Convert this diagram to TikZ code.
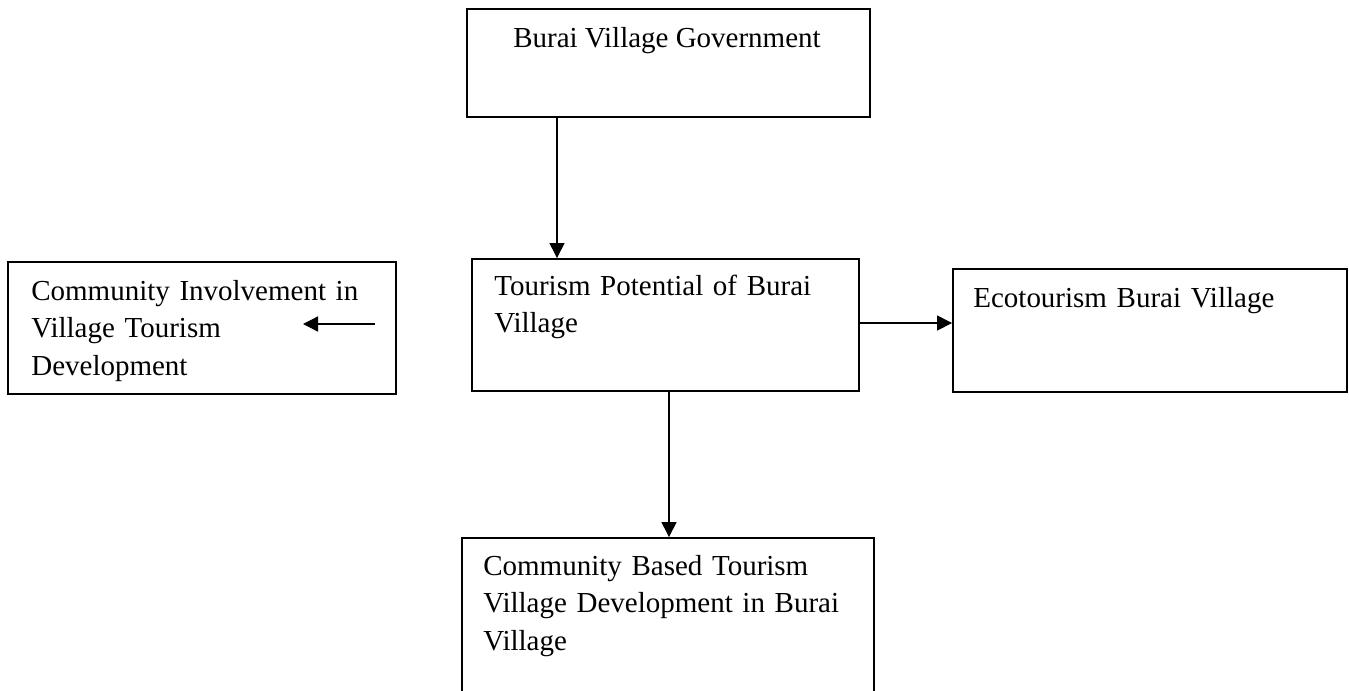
\documentclass[tikz,border=0pt]{standalone}
\usepackage{fontspec}
\setmainfont{Liberation Serif}
\usetikzlibrary{arrows.meta}
\usepackage{xcolor}
\definecolor{boxink}{HTML}{000000}

\begin{document}
\begin{tikzpicture}[x=0.02cm,y=-0.02cm,
  point/.style={coordinate},
  block/.style={draw=boxink, line width=1.1pt, rectangle, inner sep=0pt},
  label/.style={anchor=base west, inner sep=0pt, align=left, text=boxink, font=\fontsize{16.5}{21.5}\selectfont},
  arr/.style={draw=boxink, line width=0.75pt, -{Triangle[length=0.3cm,width=0.3cm]}}]
\clip (0,0) rectangle (1349,690);
\useasboundingbox (0,0) rectangle (1349,690);
% boxes
\node[block, minimum width=8.06cm, minimum height=2.16cm] (gov) at (668.5,63) {};
\node[block, minimum width=7.74cm, minimum height=2.64cm] (pot) at (665.5,325) {};
\node[block, minimum width=7.88cm, minimum height=2.46cm] (eco) at (1150,330.5) {};
\node[block, minimum width=7.76cm, minimum height=2.64cm] (inv) at (202,328) {};
\node[block, minimum width=8.24cm, minimum height=3.64cm] (cbt) at (668,629) {};
% texts
\node[label, anchor=base] (govtext) at (667,47) {Burai Village Government};
\node[label, text width=7cm] (pottext) at (494,295) {Tourism Potential of Burai\\Village};
\node[label, text width=7cm] (ecotext) at (973,307) {Ecotourism Burai Village};
\node[label, text width=7cm] (invtext) at (31,300) {Community Involvement in\\Village Tourism\\Development};
\node[label, text width=7.6cm] (cbttext) at (483,575) {Community Based Tourism\\Village Development in Burai\\Village};
% connectors
\node[point] (govout) at (557,117) {};
\node[point] (potout) at (669,391) {};
\node[point] (potright) at (859,323) {};
\node[point] (invS) at (375,324) {};
\node[point] (invE) at (303,324) {};
\draw[arr] (govout) -- (govout |- pot.north);
\draw[arr] (potout) -- (potout |- cbt.north);
\draw[arr] (potright) -- (potright -| eco.west);
\draw[arr] (invS) -- (invE);
\end{tikzpicture}
\end{document}
